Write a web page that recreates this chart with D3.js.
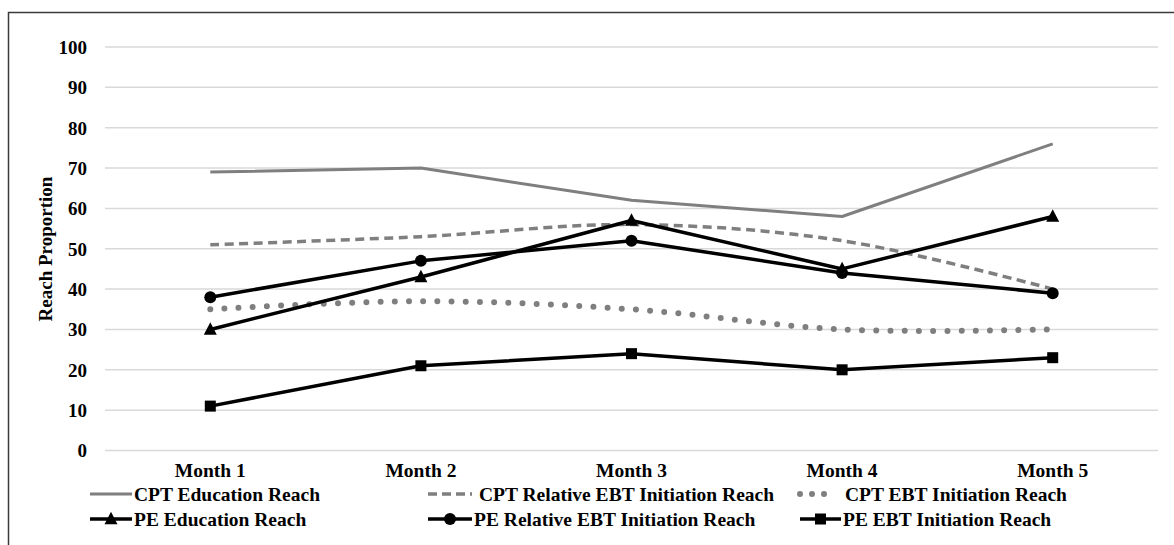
<!DOCTYPE html>
<html>
<head>
<meta charset="utf-8">
<script src="https://cdn.jsdelivr.net/npm/d3@7"></script>
<style>
  html, body { margin: 0; padding: 0; background: #fff; }
  svg { display: block; }
  svg text { font-family: "Liberation Serif", "Times New Roman", Tinos, Times, "DejaVu Serif", serif; font-weight: bold; fill: #000; }
</style>
</head>
<body>
<svg id="chart" width="1174" height="545"></svg>
<script>
// ---- Data ----
const months = ["Month 1", "Month 2", "Month 3", "Month 4", "Month 5"];
const yTicks = [0, 10, 20, 30, 40, 50, 60, 70, 80, 90, 100];
const seriesNames = [
  "CPT Education Reach",
  "CPT Relative EBT Initiation Reach",
  "CPT EBT Initiation Reach",
  "PE Education Reach",
  "PE Relative EBT Initiation Reach",
  "PE EBT Initiation Reach"
];
const cptEducation = [69, 70, 62, 58, 76];
const cptRelativeEBT = [51, 53, 56, 52, 40];
const cptEBT = [35, 37, 35, 30, 30];
const peEducation = [30, 43, 57, 45, 58];
const peRelativeEBT = [38, 47, 52, 44, 39];
const peEBT = [11, 21, 24, 20, 23];

// ---- Styles (not data) ----
const GRAY = "#7f7f7f";
const styles = [
  { values: cptEducation, color: GRAY, width: 3, dash: null, cap: "butt", curve: d3.curveLinear, marker: null },
  { values: cptRelativeEBT, color: GRAY, width: 3.5, dash: "9,5.5", cap: "butt", curve: d3.curveCatmullRom.alpha(0.5), marker: null },
  { values: cptEBT, color: GRAY, width: 6, dash: "0,14.2", cap: "round", curve: d3.curveCatmullRom.alpha(0.5), marker: null },
  { values: peEducation, color: "#000", width: 3.5, dash: null, cap: "butt", curve: d3.curveLinear, marker: "triangle" },
  { values: peRelativeEBT, color: "#000", width: 3.5, dash: null, cap: "butt", curve: d3.curveLinear, marker: "circle" },
  { values: peEBT, color: "#000", width: 3.5, dash: null, cap: "butt", curve: d3.curveLinear, marker: "square" }
];

const FONT = '"Liberation Serif", "Times New Roman", Tinos, Times, "DejaVu Serif", serif';
const svg = d3.select("#chart");

// frame
svg.append("rect").attr("x", 8.5).attr("y", 12.5).attr("width", 1200).attr("height", 600)
  .attr("fill", "none").attr("stroke", "#3a3a3a").attr("stroke-width", 1.5);

const x = d3.scaleBand().domain(months).range([105, 1158]);
const y = d3.scaleLinear().domain([0, 100]).range([450.5, 47]);

// gridlines
svg.append("g").selectAll("line").data(yTicks).join("line")
  .attr("x1", 105).attr("x2", 1158)
  .attr("y1", d => y(d)).attr("y2", d => y(d))
  .attr("stroke", "#d9d9d9").attr("stroke-width", 1.5);

// y axis labels
const yAxis = d3.axisLeft(y).tickValues(yTicks).tickSize(0).tickPadding(0);
const yg = svg.append("g").attr("transform", "translate(87,0)").call(yAxis)
  .attr("font-family", FONT).attr("font-size", 19);
yg.select(".domain").remove();
yg.selectAll("text").attr("font-weight", "bold").attr("fill", "#000").attr("dy", "0.34em");

// x axis labels
const xAxis = d3.axisBottom(x).tickSize(0).tickPadding(0);
const xg = svg.append("g").attr("transform", "translate(0,463)").call(xAxis)
  .attr("font-family", FONT).attr("font-size", 19.5);
xg.select(".domain").remove();
xg.selectAll("text").attr("font-weight", "bold").attr("fill", "#000").attr("dy", "0.72em");

// y axis title
svg.append("text")
  .attr("transform", "translate(52,249) rotate(-90)")
  .attr("text-anchor", "middle")
  .attr("font-family", FONT)
  .attr("font-size", 19)
  .text("Reach Proportion");

const cx = (i) => x(months[i]) + x.bandwidth() / 2;

function drawMarker(g, type, px, py, color) {
  if (type === "circle") {
    g.append("circle").attr("cx", px).attr("cy", py).attr("r", 6).attr("fill", color);
  } else if (type === "square") {
    g.append("rect").attr("x", px - 5.5).attr("y", py - 5.5).attr("width", 11).attr("height", 11).attr("fill", color);
  } else if (type === "triangle") {
    const s = 13;
    g.append("path").attr("d", `M${px},${py - s * 0.55} L${px + s / 2},${py + s * 0.4} L${px - s / 2},${py + s * 0.4} Z`).attr("fill", color);
  }
}

// lines
const plot = svg.append("g");
styles.forEach((s) => {
  const line = d3.line().x((d, i) => cx(i)).y(d => y(d)).curve(s.curve);
  plot.append("path").datum(s.values)
    .attr("d", line)
    .attr("fill", "none")
    .attr("stroke", s.color)
    .attr("stroke-width", s.width)
    .attr("stroke-linecap", s.cap)
    .attr("stroke-linejoin", "round")
    .attr("stroke-dasharray", s.dash);
});
styles.forEach((s) => {
  if (!s.marker) return;
  const mg = plot.append("g");
  s.values.forEach((v, i) => drawMarker(mg, s.marker, cx(i), y(v), s.color));
});

// legend
const legendPos = [
  { lx1: 90, lx2: 132, tx: 134, ty: 501 },
  { lx1: 428, lx2: 472, tx: 479, ty: 501 },
  { lx1: 800, lx2: 830, tx: 845, ty: 501 },
  { lx1: 90, lx2: 132, tx: 134, ty: 526 },
  { lx1: 428, lx2: 472, tx: 474, ty: 526 },
  { lx1: 800, lx2: 841, tx: 843, ty: 526 }
];
const lg = svg.append("g").attr("font-family", FONT);
seriesNames.forEach((name, i) => {
  const s = styles[i], p = legendPos[i];
  const ly = p.ty - 7;
  lg.append("line").attr("x1", p.lx1).attr("x2", p.lx2).attr("y1", ly).attr("y2", ly)
    .attr("stroke", s.color).attr("stroke-width", s.width)
    .attr("stroke-linecap", s.cap)
    .attr("stroke-dasharray", s.dash ? (s.cap === "round" ? "0,12" : "9,5") : null);
  if (s.marker) drawMarker(lg, s.marker, (p.lx1 + p.lx2) / 2, ly, s.color);
  lg.append("text").attr("x", p.tx).attr("y", p.ty).attr("font-size", 19.5).text(name);
});
</script>
</body>
</html>
